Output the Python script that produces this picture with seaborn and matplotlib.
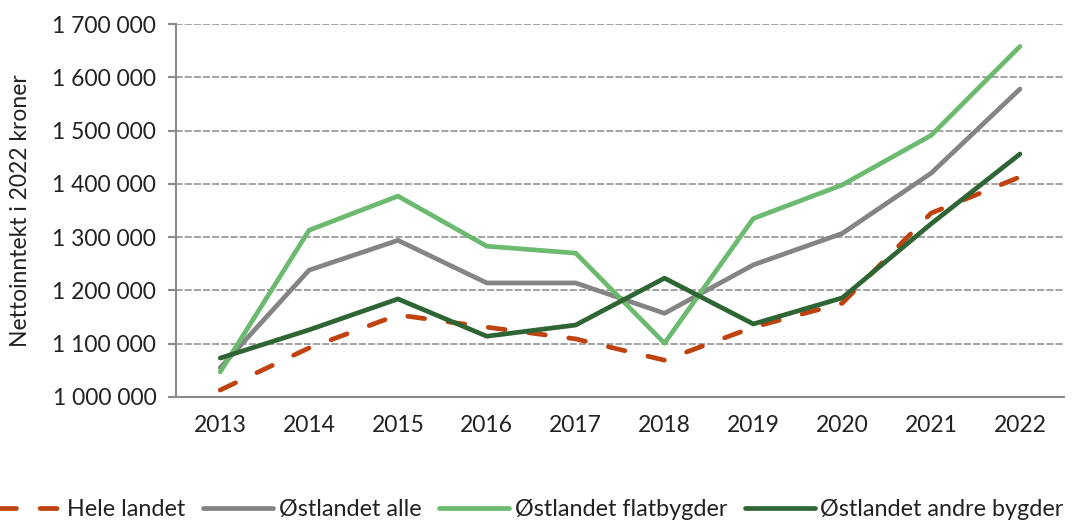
import numpy as np
import pandas as pd
import matplotlib
matplotlib.use("Agg")
import matplotlib.pyplot as plt
from matplotlib.ticker import FuncFormatter, FixedLocator
import seaborn as sns

# ==== data ====
years = [2013, 2014, 2015, 2016, 2017, 2018, 2019, 2020, 2021, 2022]
hele_landet = [1013000, 1092000, 1154000, 1131000, 1109000, 1069000, 1131000, 1176000, 1345000, 1413000]
ostlandet_alle = [1055000, 1238000, 1294000, 1214000, 1214000, 1157000, 1248000, 1307000, 1420000, 1578000]
ostlandet_flat = [1047000, 1313000, 1377000, 1283000, 1270000, 1101000, 1335000, 1398000, 1491000, 1658000]
ostlandet_andre = [1073000, 1126000, 1184000, 1114000, 1135000, 1223000, 1137000, 1186000, 1325000, 1456000]

series_names = ["Hele landet", "Østlandet alle", "Østlandet flatbygder", "Østlandet andre bygder"]
colors = ["#C0420E", "#848484", "#6BBA70", "#2F6535"]

rows = []
for name, vals in zip(series_names, [hele_landet, ostlandet_alle, ostlandet_flat, ostlandet_andre]):
    for i, (yr, v) in enumerate(zip(years, vals)):
        rows.append((i, yr, name, v))
df = pd.DataFrame(rows, columns=["pos", "year", "serie", "value"])

# ==== plot ====
sns.set_style("white")
plt.rcParams["font.family"] = ["Lato", "DejaVu Sans"]
FS = 16.5

fig = plt.figure(figsize=(10.85, 5.22), dpi=100)
ax = fig.add_axes([0.162, 0.2395, 0.819, 0.7145])

for y in range(1100000, 1700001, 100000):
    ax.axhline(y, color="#8a8a8a", lw=1.1, ls=(0, (4, 2)), zorder=0)

sns.lineplot(data=df, x="pos", y="value", hue="serie", style="serie",
             hue_order=series_names, style_order=series_names,
             palette=dict(zip(series_names, colors)),
             dashes={series_names[0]: (3.6, 5.0), series_names[1]: "", series_names[2]: "", series_names[3]: ""},
             linewidth=3.4, ax=ax, legend=True)
for ln in ax.get_lines():
    ln.set_dash_capstyle("round")
    ln.set_solid_capstyle("round")

ax.set_xlim(-0.5, len(years) - 0.5)
ax.set_ylim(1000000, 1700000)
ax.set_xticks(range(len(years)))
ax.set_xticklabels([str(y) for y in years])
ax.xaxis.set_minor_locator(FixedLocator(np.arange(-0.5, len(years), 1.0)))
ax.tick_params(axis="x", which="major", length=0, pad=13, labelsize=FS, colors="#222222")
ax.tick_params(axis="x", which="minor", length=6, width=1.5, color="#8a8a8a", direction="out")
ax.set_yticks(range(1000000, 1700001, 100000))
ax.yaxis.set_major_formatter(FuncFormatter(lambda v, p: f"{v:,.0f}".replace(",", " ")))
ax.tick_params(axis="y", length=6, width=1.5, color="#8a8a8a", labelsize=FS, pad=8, labelcolor="#222222")
ax.tick_params(left=True, bottom=True)

for s in ["top", "right"]:
    ax.spines[s].set_visible(False)
for s in ["left", "bottom"]:
    ax.spines[s].set_color("#8a8a8a")
    ax.spines[s].set_linewidth(1.5)

ax.set_xlabel("")
ax.set_ylabel("Nettoinntekt i 2022 kroner", fontsize=FS, color="#222222", labelpad=15)

handles, labels = ax.get_legend_handles_labels()
ax.get_legend().remove()
leg = fig.legend(handles, labels, loc="lower left", bbox_to_anchor=(-0.008, 0.004), ncol=4,
                 frameon=False, fontsize=16.8, handlelength=3.0, columnspacing=0.75,
                 handletextpad=0.25, borderpad=0, borderaxespad=0)
for t in leg.get_texts():
    t.set_color("#222222")

fig.savefig("out.png", dpi=100)
